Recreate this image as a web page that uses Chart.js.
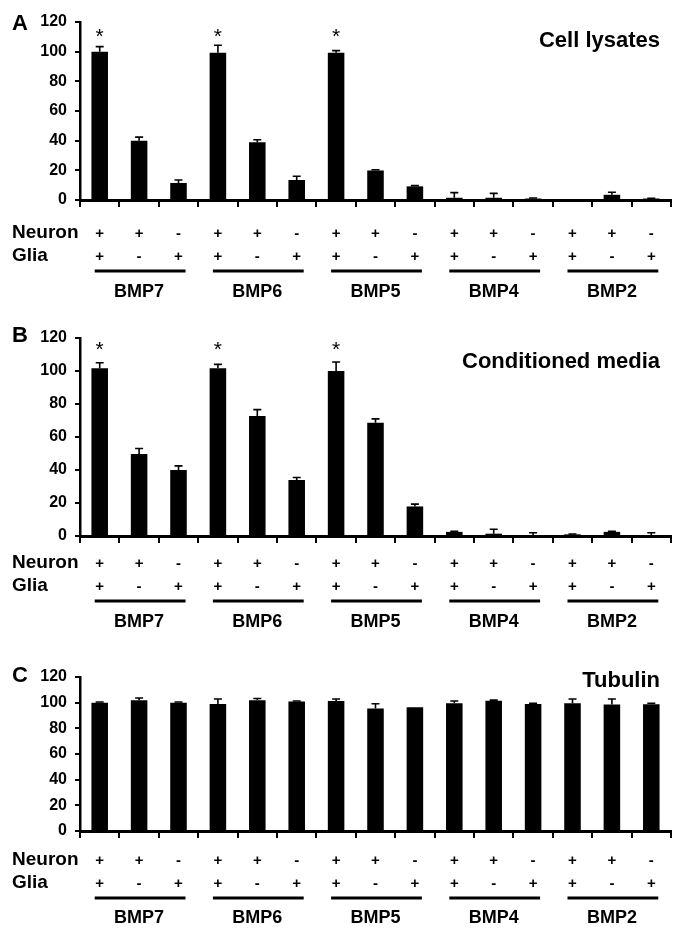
<!DOCTYPE html>
<html>
<head>
<meta charset="utf-8">
<title>BMP expression</title>
<script src="https://cdn.jsdelivr.net/npm/chart.js@4.4.1/dist/chart.umd.min.js"></script>
<style>
  body { margin: 0; background: #fff; }
  #wrap { position: relative; width: 673px; height: 929px; }
  canvas { position: absolute; left: 0; }
</style>
</head>
<body>
<div id="wrap">
  <canvas id="panelA" width="673" height="305" style="top:0px"></canvas>
  <canvas id="panelB" width="673" height="325" style="top:305px"></canvas>
  <canvas id="panelC" width="673" height="299" style="top:630px"></canvas>
</div>
<script>
// groups and the neuron / glia conditions under each bar
const groups = ["BMP7", "BMP6", "BMP5", "BMP4", "BMP2"];
const neuronRow = ["+", "+", "-"];
const gliaRow = ["+", "-", "+"];
const yTicks = [0, 20, 40, 60, 80, 100, 120];

// A - cell lysates
const lysates = [100, 40, 11.5, 99.3, 39, 13.5, 99.3, 19.9, 9.2, 1.5, 1.5, 1, 0, 3.5, 1];
const lysatesErr = [3.4, 2.4, 2, 5, 1.6, 2.5, 1.4, 0.5, 0.5, 3.5, 3, 0.3, 0, 1.7, 0.2];
const lysatesStars = [0, 3, 6];

// B - conditioned media
const media = [101.6, 49.7, 40, 101.6, 72.7, 33.9, 100, 68.6, 17.9, 2.5, 1.4, 0.3, 1, 2.5, 0.3];
const mediaErr = [3.4, 3.3, 2.5, 2.4, 3.9, 1.6, 5.5, 2.4, 1.4, 0.4, 2.7, 1.7, 0.2, 0.3, 1.7];
const mediaStars = [0, 3, 6];

// C - tubulin
const tubulin = [100, 101.8, 100, 99, 101.8, 101, 101.3, 95.4, 96.4, 99.5, 101.5, 99, 99.5, 98.5, 98.7];
const tubulinErr = [0.5, 1.8, 0.5, 3.8, 1.5, 0.3, 1.5, 3.8, 0, 1.8, 0.5, 0.5, 3.3, 4.3, 0.8];
const tubulinStars = [];

const categories = [];
groups.forEach(g => {
    for (let k = 0; k < 3; k++) categories.push(g + " N" + neuronRow[k] + " G" + gliaRow[k]);
});

const FONT = "'Liberation Sans', Arial, Helvetica, sans-serif";

// draws error bars, asterisks, titles and the condition table under the axis
const extras = {
    id: "panelExtras",
    afterDatasetsDraw(chart, args, o) {
        const ctx = chart.ctx;
        const xs = chart.scales.x, ys = chart.scales.y;
        const vals = chart.data.datasets[0].data;
        const meta = chart.getDatasetMeta(0);
        ctx.save();

        ctx.strokeStyle = "#000";
        ctx.lineWidth = 1.6;
        meta.data.forEach((bar, i) => {
            const e = o.errors[i];
            if (!e) return;
            const y0 = ys.getPixelForValue(vals[i]);
            const y1 = ys.getPixelForValue(vals[i] + e);
            ctx.beginPath();
            ctx.moveTo(bar.x, y0);
            ctx.lineTo(bar.x, y1);
            ctx.moveTo(bar.x - 4, y1);
            ctx.lineTo(bar.x + 4, y1);
            ctx.stroke();
        });

        ctx.fillStyle = "#000";
        ctx.textBaseline = "alphabetic";

        ctx.font = "21px " + FONT;
        ctx.textAlign = "center";
        o.stars.forEach(i => ctx.fillText("*", xs.getPixelForValue(i), o.box.starBase));

        ctx.font = "bold 22px " + FONT;
        ctx.textAlign = "left";
        ctx.fillText(o.letter, 12, o.box.letterBase);
        ctx.textAlign = "right";
        ctx.fillText(o.title, 660, o.box.titleBase);

        ctx.font = "bold 19px " + FONT;
        ctx.textAlign = "left";
        ctx.fillText("Neuron", 12, o.box.neuronBase);
        ctx.fillText("Glia", 12, o.box.gliaBase);

        ctx.font = "bold 15px " + FONT;
        ctx.textAlign = "center";
        categories.forEach((c, i) => {
            const x = xs.getPixelForValue(i);
            ctx.fillText(neuronRow[i % 3], x, o.box.neuronBase);
            ctx.fillText(gliaRow[i % 3], x, o.box.gliaBase);
        });

        ctx.lineWidth = 3;
        ctx.font = "bold 18px " + FONT;
        groups.forEach((g, gi) => {
            const x0 = xs.getPixelForValue(gi * 3) - 5;
            const x1 = xs.getPixelForValue(gi * 3 + 2) + 7;
            ctx.beginPath();
            ctx.moveTo(x0, o.box.lineY);
            ctx.lineTo(x1, o.box.lineY);
            ctx.stroke();
            ctx.fillText(g, xs.getPixelForValue(gi * 3 + 1), o.box.bmpBase);
        });

        ctx.restore();
    }
};

function makePanel(id, values, errors, stars, letter, title, box) {
    return new Chart(document.getElementById(id), {
        type: "bar",
        data: {
            labels: categories,
            datasets: [{
                data: values,
                backgroundColor: "#000",
                borderWidth: 0,
                barPercentage: 0.42,
                categoryPercentage: 1
            }]
        },
        options: {
            responsive: false,
            animation: false,
            devicePixelRatio: 1,
            layout: { padding: { top: box.padTop, right: 2, left: 0, bottom: 0 } },
            plugins: {
                legend: { display: false },
                tooltip: { enabled: false },
                panelExtras: { errors: errors, stars: stars, letter: letter, title: title, box: box }
            },
            scales: {
                x: {
                    ticks: { display: false },
                    grid: { offset: true, drawOnChartArea: false, drawTicks: true, tickLength: 7, color: "#000", lineWidth: 2 },
                    border: { display: true, color: "#000", width: 3 },
                    afterFit: s => { s.height = box.xHeight; }
                },
                y: {
                    min: 0,
                    max: 120,
                    afterBuildTicks: s => { s.ticks = yTicks.map(v => ({ value: v })); },
                    ticks: { color: "#000", padding: 8, font: { family: FONT, size: 16, weight: "bold" } },
                    grid: { drawOnChartArea: false, tickLength: 5, color: "#000", lineWidth: 2 },
                    border: { display: true, color: "#000", width: 2.5 },
                    afterFit: s => { s.width = 80; }
                }
            }
        },
        plugins: [extras]
    });
}

makePanel("panelA", lysates, lysatesErr, lysatesStars, "A", "Cell lysates",
    { padTop: 22, xHeight: 105, starBase: 43, letterBase: 30, titleBase: 47,
      neuronBase: 238, gliaBase: 261, lineY: 271, bmpBase: 297 });

makePanel("panelB", media, mediaErr, mediaStars, "B", "Conditioned media",
    { padTop: 33, xHeight: 94, starBase: 51, letterBase: 37, titleBase: 63,
      neuronBase: 263, gliaBase: 286, lineY: 296, bmpBase: 322 });

makePanel("panelC", tubulin, tubulinErr, tubulinStars, "C", "Tubulin",
    { padTop: 47, xHeight: 98, starBase: 0, letterBase: 52, titleBase: 57,
      neuronBase: 235, gliaBase: 258, lineY: 268, bmpBase: 293 });
</script>
</body>
</html>
